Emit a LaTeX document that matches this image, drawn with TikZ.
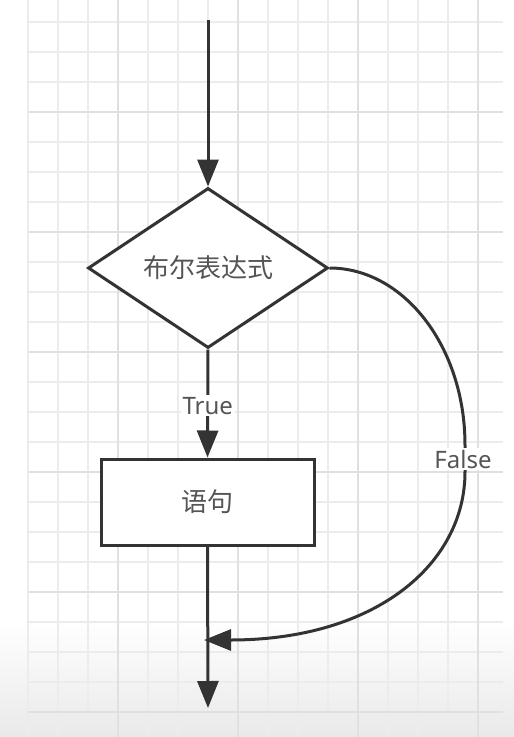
\documentclass[tikz,border=0pt]{standalone}
\usepackage{fontspec}
\setmainfont{Noto Sans}
\newfontfamily\cjk{Noto Sans CJK SC}
\usetikzlibrary{shapes.geometric,arrows.meta}
\definecolor{ink}{HTML}{333333}
\definecolor{txt}{HTML}{555555}
\definecolor{gridminor}{HTML}{ECECEC}
\definecolor{gridmajor}{HTML}{E0E0E0}
\definecolor{bottomgray}{HTML}{E9E9E9}
\tikzset{
  flow/.style={draw=ink, line width=3pt, -{Triangle[length=27pt,width=21pt]}},
  condbox/.style={diamond, draw=ink, line width=3pt, fill=white, inner sep=0pt,
    minimum width=240pt, minimum height=160pt, text=txt, font=\cjk\fontsize{26}{30}\selectfont},
  stmtbox/.style={rectangle, draw=ink, line width=3pt, fill=white,
    minimum width=213pt, minimum height=86pt, text=txt, font=\cjk\fontsize{26}{30}\selectfont},
  lbl/.style={fill=white, text=txt, inner sep=2pt, font=\fontsize{24}{28}\selectfont},
}
\begin{document}
\begin{tikzpicture}[x=1pt,y=-1pt]
  \useasboundingbox (0,0) rectangle (514,737);
  \fill[white] (0,0) rectangle (514,620);
  \shade[top color=white, bottom color=bottomgray] (0,620) rectangle (514,737);
  % grid
  \foreach \k in {0,...,15} {
    \pgfmathsetmacro\gx{28+30*\k}
    \draw[gridminor, line width=1.3pt] (\gx,0) -- (\gx,737);
  }
  \foreach \k in {0,...,23} {
    \pgfmathsetmacro\gy{22+30*\k}
    \draw[gridminor, line width=1.3pt] (28,\gy) -- (503,\gy);
  }
  \foreach \gx in {118,238,358,478} \draw[gridmajor, line width=1.3pt] (\gx,0) -- (\gx,737);
  \foreach \gy in {112,232,352,472,592,712} \draw[gridmajor, line width=1.3pt] (28,\gy) -- (503,\gy);

  % nodes
  \coordinate (start) at (208,20);
  \node[condbox] (cond) at (208,268) {\raisebox{-2pt}{布尔表达式}};
  \node[stmtbox] (stmt) at (207.5,502) {\raisebox{-2pt}{语句}};
  \coordinate (join) at (204,640);
  \coordinate (end) at (208,708);
  \coordinate (fa) at (465,445);
  \coordinate (fb) at (465,472);

  % connectors
  \draw[flow] (start) -- (cond.north);
  \draw[flow] (cond.south) -- node[lbl, pos=0.52] {True} (stmt.north);
  \draw[flow] (stmt.south) -- (end);
  \draw[flow] (cond.east) .. controls (404,268) and (465,347) .. (fa)
     -- (fb) .. controls (465,563) and (377,640) .. (join);
  \node[lbl] (false) at (463,459) {False};
\end{tikzpicture}
\end{document}
